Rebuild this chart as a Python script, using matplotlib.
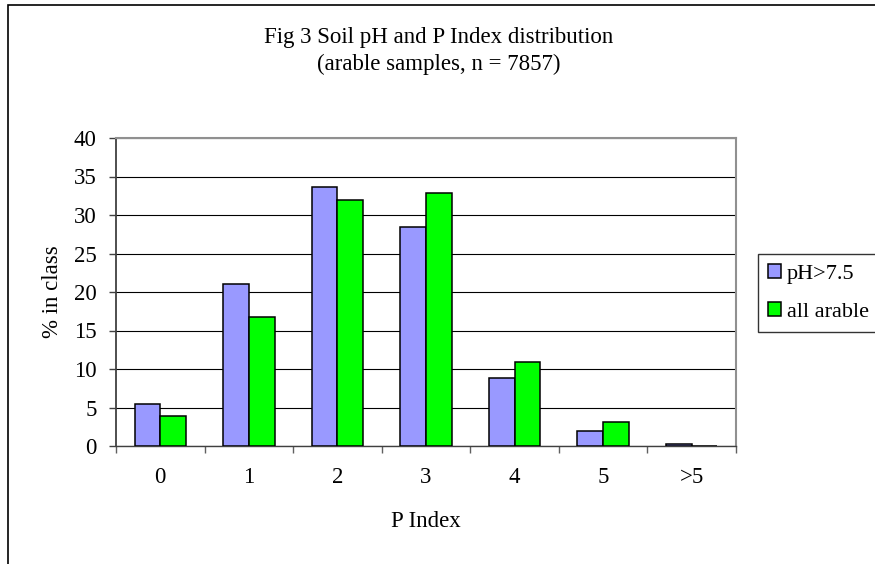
import matplotlib
matplotlib.use("Agg")
import matplotlib.pyplot as plt
import numpy as np
from matplotlib.patches import Rectangle

plt.rcParams['font.family'] = ['Liberation Serif', 'DejaVu Serif']

# data
classes = ['0', '1', '2', '3', '4', '5', '>5']
ph_high = [5.4, 21.0, 33.7, 28.5, 8.8, 2.0, 0.3]
all_arable = [3.9, 16.8, 31.9, 32.9, 10.9, 3.1, 0.0]

W, H = 875, 564
FS = 16.5
fig = plt.figure(figsize=(W / 100, H / 100), dpi=100)

# chart area border (left and top visible, rest off the image)
fig.patches.append(Rectangle((8 / W, -0.2), 1.2, 1.2 - 4.5 / H,
                             transform=fig.transFigure, fill=False,
                             edgecolor='black', linewidth=1.2))

ax = fig.add_axes([116 / W, (H - 446) / H, 620 / W, 308 / H])

x = np.arange(len(classes))
bw = 0.29
ax.bar(x - bw / 2, ph_high, bw, color='#9999ff', edgecolor='black',
       linewidth=1.1, label='pH>7.5', zorder=3)
ax.bar(x + bw / 2, all_arable, bw, color='#00ff00', edgecolor='black',
       linewidth=1.1, label='all arable', zorder=3)

ax.set_xlim(-0.5, len(classes) - 0.5)
ax.set_ylim(0, 40)
ax.set_yticks(np.arange(0, 41, 5))
ax.yaxis.grid(True, color='black', linewidth=0.8, zorder=0)
ax.set_axisbelow(True)

ax.set_xticks(x)
ax.set_xticklabels(classes)
ax.set_xticks(np.arange(-0.5, len(classes)), minor=True)
ax.tick_params(axis='x', which='major', length=0, pad=15, labelsize=FS)
ax.tick_params(axis='x', which='minor', length=5, width=1, color='#606060',
               direction='out')
ax.tick_params(axis='y', length=5, width=1, color='#404040', labelsize=FS,
               pad=9)

for s in ['top', 'right']:
    ax.spines[s].set_color('#909090')
    ax.spines[s].set_linewidth(1.5)
ax.spines['left'].set_color('#404040')
ax.spines['left'].set_linewidth(1.3)
ax.spines['bottom'].set_color('#404040')
ax.spines['bottom'].set_linewidth(1.0)

ax.set_xlabel('P Index', fontsize=FS, labelpad=17)
ax.set_ylabel('% in class', fontsize=FS, labelpad=8)

fig.text(439 / W, 1 - 37 / H, 'Fig 3 Soil pH and P Index distribution',
         ha='center', va='center', fontsize=FS)
fig.text(439 / W, 1 - 64 / H, '(arable samples, n = 7857)',
         ha='center', va='center', fontsize=FS)

leg = ax.legend(loc='upper left', bbox_to_anchor=(758 / W, 1 - 254 / H),
                bbox_transform=fig.transFigure, fontsize=FS - 0.5, frameon=True,
                fancybox=False, shadow=False, borderaxespad=0,
                handlelength=0.6, handleheight=0.6, handletextpad=0.25,
                labelspacing=0.8, borderpad=0.45)
leg.get_frame().set_edgecolor('black')
leg.get_frame().set_linewidth(1.0)

fig.savefig('out.png', dpi=100)
